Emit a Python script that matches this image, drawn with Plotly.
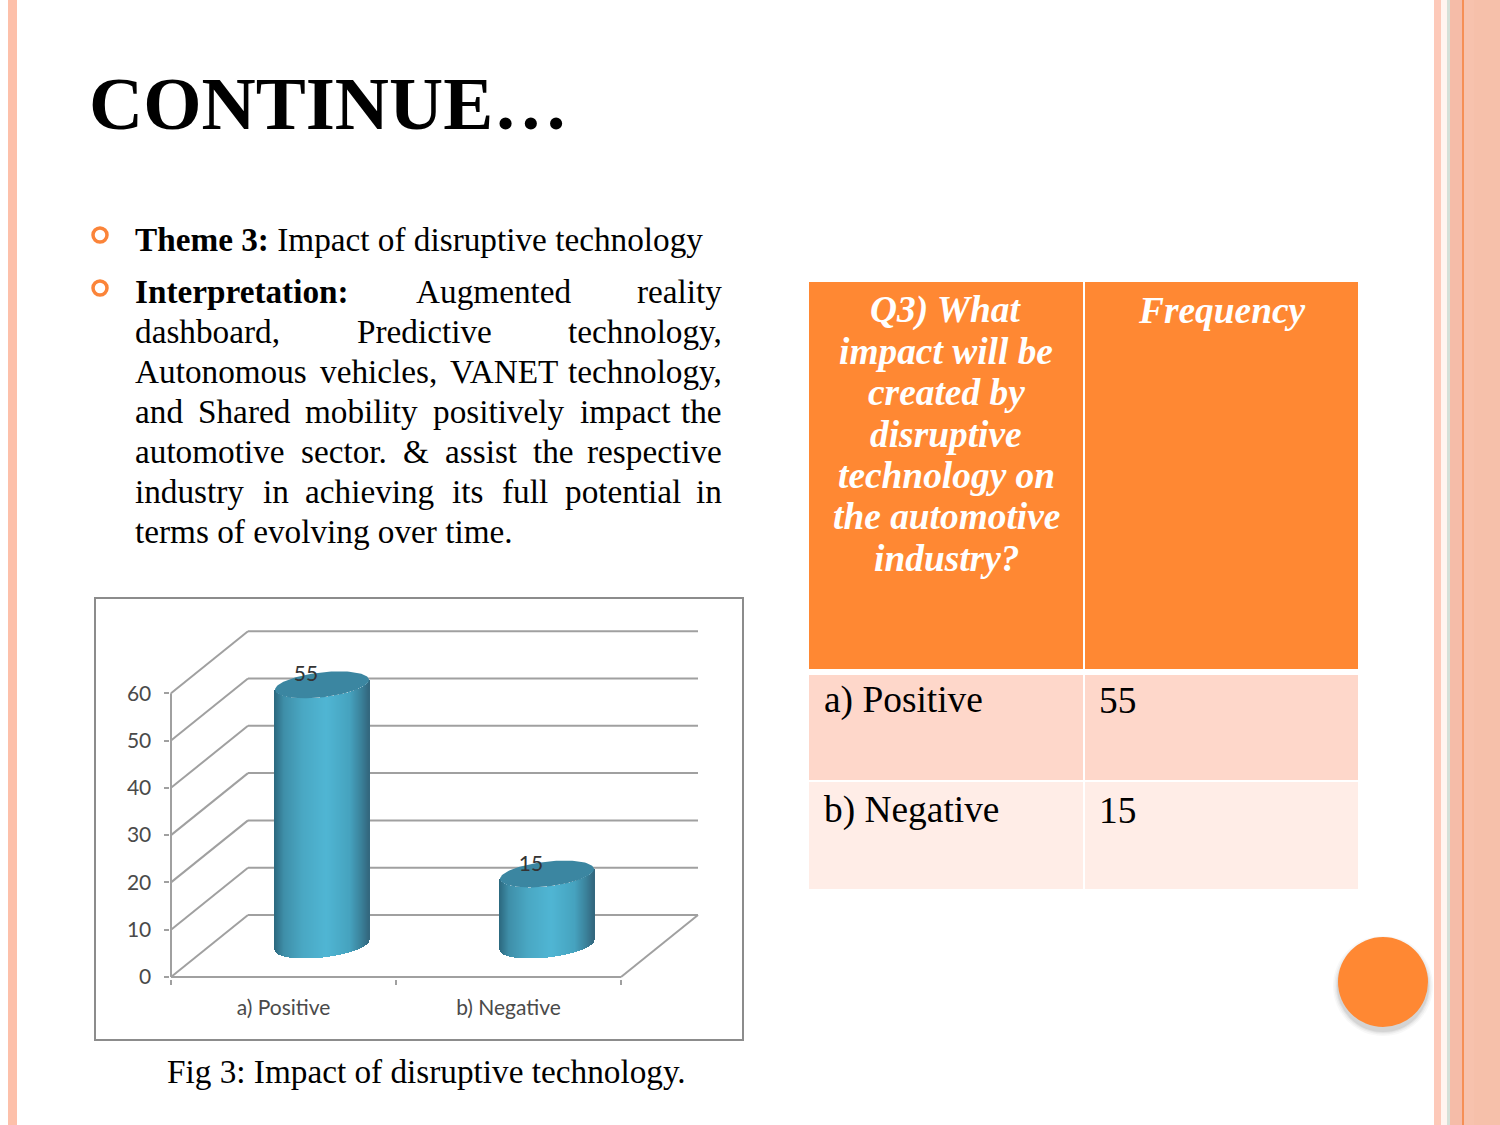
import numpy as np
import plotly.graph_objects as go

# chart data
categories = ["a) Positive", "b) Negative"]
frequency = [55, 15]
y_ticks = [0, 10, 20, 30, 40, 50, 60]

# slide text
title = "CONTINUE…"
theme_bold = "Theme 3:"
theme_text = "Impact of disruptive technology"
caption = "Fig 3: Impact of disruptive technology."
table_head_q = ["Q3) What", "impact will be", "created by", "disruptive",
                "technology on", "the automotive", "industry?"]
table_head_f = "Frequency"

# justified paragraph: word, left edge (right edge for the last word of a line)
body_lines = [
    (291.5, [("<b>Interpretation:</b>", 135), ("Augmented", 416)], ("reality", 723)),
    (331.5, [("dashboard,", 135), ("Predictive", 357)], ("technology,", 723)),
    (371.5, [("Autonomous", 135), ("vehicles,", 320), ("VANET", 450)], ("technology,", 723)),
    (411.5, [("and", 135), ("Shared", 198), ("mobility", 305), ("positively", 433), ("impact", 580)], ("the", 723)),
    (451.5, [("automotive", 135), ("sector.", 301), ("&", 403), ("assist", 445), ("the", 533)], ("respective", 723)),
    (491.5, [("industry", 135), ("in", 263), ("achieving", 305), ("its", 452), ("full", 502), ("potential", 565)], ("in", 723)),
    (531.5, [("terms of evolving over time.", 135)], None),
]

W, H = 1500, 1125
SERIF = "Liberation Serif"
ORANGE = "#ff8833"
GRID = "#a0a0a0"
BODY = 33.25
TABLE = 37.4

# chart geometry in px
X0, X_UNIT = 171, 225.0   # px of the left wall, px per category
Y0, Y_UNIT = 977, 4.73    # px of value 0, px per value unit
X_END, Y_END = 705, 622
PAD = 1.5                 # room outside the axes so the wall lines are not clipped
DEPTH_X = 77 / X_UNIT
DEPTH_Y = 62 / Y_UNIT
CYL_A, CYL_B, CYL_K = 47.0, 12.5, -5.0  # ellipse half width, half height, tilt in px
CYL_OFFSET = 38.5 / X_UNIT
CYL_BASE = 32 / Y_UNIT

shade_pos = [0, 0.1, 0.3, 0.55, 0.8, 0.93, 1]
shade_r = [44, 63, 74, 80, 70, 58, 51]
shade_g = [106, 143, 168, 182, 163, 127, 104]
shade_b = [128, 169, 196, 212, 191, 152, 127]


def px(x):
    return x / W


def py(y):
    return 1 - y / H


def rect(x0, y0, x1, y1, color, opacity=1):
    return dict(type="rect", xref="paper", yref="paper", x0=px(x0), x1=px(x1), y0=py(y0), y1=py(y1),
                fillcolor=color, opacity=opacity, line=dict(width=0), layer="below")


def circle(cx, cy, r, color, opacity=1):
    return dict(type="circle", xref="paper", yref="paper", x0=px(cx - r), x1=px(cx + r), y0=py(cy - r), y1=py(cy + r),
                fillcolor=color, opacity=opacity, line=dict(width=0), layer="below")


def ring(cx, cy, r):
    return dict(type="circle", xref="paper", yref="paper", x0=px(cx - r), x1=px(cx + r), y0=py(cy - r), y1=py(cy + r),
                fillcolor="white", line=dict(width=3.5, color="#fb8439"), layer="below")


def text(s, x, y, size, anchor="left", color="black"):
    return dict(text=s, x=px(x), y=py(y), xref="paper", yref="paper", showarrow=False, xanchor=anchor,
                yanchor="middle", align=anchor, borderpad=0,
                font=dict(family=SERIF, size=size, color=color))


def chart_line(x0, y0, x1, y1):
    return dict(type="line", xref="x", yref="y", x0=x0, y0=y0, x1=x1, y1=y1,
                line=dict(color=GRID, width=2), layer="below")


shapes = [
    # slide border stripes
    rect(8, 0, 17, H, "#fdc0aa"),
    rect(1434, 0, 1441, H, "#fdc9b9"),
    rect(1441, 0, 1447, H, "#fff4f0"),
    rect(1447, 0, 1450, H, "#d5e0d8"),
    rect(1450, 0, 1462, H, "#f5bca8"),
    rect(1462, 0, 1464, H, "#f68f55"),
    rect(1464, 0, 1474, H, "#f7c2ad"),
    rect(1474, 0, 1500, H, "#f6c0aa"),
    # bullets
    ring(100, 235, 7),
    ring(100, 288, 7),
    # chart frame
    dict(type="rect", xref="paper", yref="paper", x0=px(95), x1=px(743), y0=py(598), y1=py(1040),
         fillcolor="white", line=dict(color="#8c8c8c", width=2), layer="below"),
    # table
    rect(809, 282, 1083, 669, ORANGE),
    rect(1085, 282, 1358, 669, ORANGE),
    rect(809, 675, 1083, 780, "#fed7ca"),
    rect(1085, 675, 1358, 780, "#fed7ca"),
    rect(809, 782, 1083, 889, "#ffede7"),
    rect(1085, 782, 1358, 889, "#ffede7"),
]

# soft shadow below the orange circle
for r, op in [(50, 0.04), (48.5, 0.06), (47, 0.08), (46, 0.1)]:
    shapes.append(circle(1383, 986, r, "#555555", op))
shapes.append(circle(1383, 982, 45, ORANGE))

# walls and floor of the 3d chart
x_left, x_right = -0.5, len(categories) - 0.5
for v in y_ticks:
    shapes.append(chart_line(x_left, v, x_left + DEPTH_X, v + DEPTH_Y))
    shapes.append(chart_line(x_left + DEPTH_X, v + DEPTH_Y, x_right + DEPTH_X, v + DEPTH_Y))
shapes.append(chart_line(x_left, 0, x_left, y_ticks[-1]))
shapes.append(chart_line(x_left, 0, x_right, 0))
shapes.append(chart_line(x_right, 0, x_right + DEPTH_X, DEPTH_Y))

fig = go.Figure()

# cylinders: thin vertical strips for the shading, an ellipse for the top
n_strips = 95
u = np.linspace(-1, 1, n_strips)
fracs = (u + 1) / 2
colors = [f"rgb({int(np.interp(f, shade_pos, shade_r))},{int(np.interp(f, shade_pos, shade_g))},"
          f"{int(np.interp(f, shade_pos, shade_b))})" for f in fracs]
t = np.linspace(0, 2 * np.pi, 120)
half_w = CYL_A / X_UNIT
for i, (cat, val) in enumerate(zip(categories, frequency)):
    cx = i + CYL_OFFSET
    lower = CYL_BASE - (CYL_K * u + CYL_B * np.sqrt(1 - u ** 2)) / Y_UNIT
    fig.add_trace(go.Bar(x=cx + u * half_w, y=[val] * n_strips, base=lower,
                         width=2.2 * half_w / n_strips, marker=dict(color=colors, line=dict(width=0)),
                         hoverinfo="skip", showlegend=False))
    fig.add_trace(go.Scatter(x=cx + half_w * np.cos(t),
                             y=val + CYL_BASE - (CYL_K * np.cos(t) + CYL_B * np.sin(t)) / Y_UNIT,
                             mode="lines", fill="toself", fillcolor="#3b86a1", line=dict(width=0),
                             hoverinfo="skip", showlegend=False))

fig.add_trace(go.Scatter(x=[i + 0.1 for i in range(len(categories))], y=[v + 8.6 for v in frequency],
                         text=[str(v) for v in frequency], mode="text", textposition="middle center",
                         textfont=dict(family="Lato", size=21, color="#333333"),
                         hoverinfo="skip", showlegend=False))

annotations = [
    text(f"<b>{title}</b>", 88, 103, 75),
    text(f"<b>{theme_bold}</b> {theme_text}", 134, 239, BODY),
    text(caption, 426.5, 1071, BODY, "center"),
    text(f"<b><i>{table_head_f}</i></b>", 1222, 310, TABLE, "center", "white"),
    text(categories[0], 823, 700, TABLE),
    text(str(frequency[0]), 1098, 700, TABLE),
    text(categories[1], 823, 810, TABLE),
    text(str(frequency[1]), 1098, 810, TABLE),
]
for n, line in enumerate(table_head_q):
    annotations.append(text(f"<b><i>{line}</i></b>", 946, 310 + n * 41.4, TABLE, "center", "white"))
for y, words, last in body_lines:
    for word, x in words:
        annotations.append(text(word, x - 1, y, BODY))
    if last:
        annotations.append(text(last[0], last[1], y, BODY, "right"))

fig.update_layout(
    width=W, height=H, margin=dict(l=0, r=0, t=0, b=0, autoexpand=False),
    paper_bgcolor="white", plot_bgcolor="rgba(0,0,0,0)",
    showlegend=False, barmode="overlay", bargap=0,
    shapes=shapes, annotations=annotations,
    xaxis=dict(domain=[px(X0 - PAD), px(X_END)],
               range=[x_left - PAD / X_UNIT, x_left + (X_END - X0) / X_UNIT], automargin=False,
               tickmode="array", tickvals=list(range(len(categories))), ticktext=categories,
               ticks="", showgrid=False, zeroline=False, showline=False, ticklabelstandoff=14,
               tickfont=dict(family="Lato", size=21, color="#4a4a4a"),
               minor=dict(tickmode="array", tickvals=[x_left, 0.5, x_right], ticks="outside",
                          ticklen=5, tickwidth=2, tickcolor=GRID, showgrid=False)),
    yaxis=dict(domain=[py(Y0 + PAD), py(Y_END)],
               range=[-PAD / Y_UNIT, (Y0 - Y_END) / Y_UNIT], automargin=False,
               tickmode="array", tickvals=y_ticks, ticks="outside", ticklen=5, tickwidth=2, tickcolor=GRID,
               showgrid=False, zeroline=False, showline=False, ticklabelstandoff=8,
               tickfont=dict(family="Lato", size=21, color="#4a4a4a")),
)

fig.write_html("out.html", config=dict(displayModeBar=False),
               post_script="document.body.style.margin='0';")
